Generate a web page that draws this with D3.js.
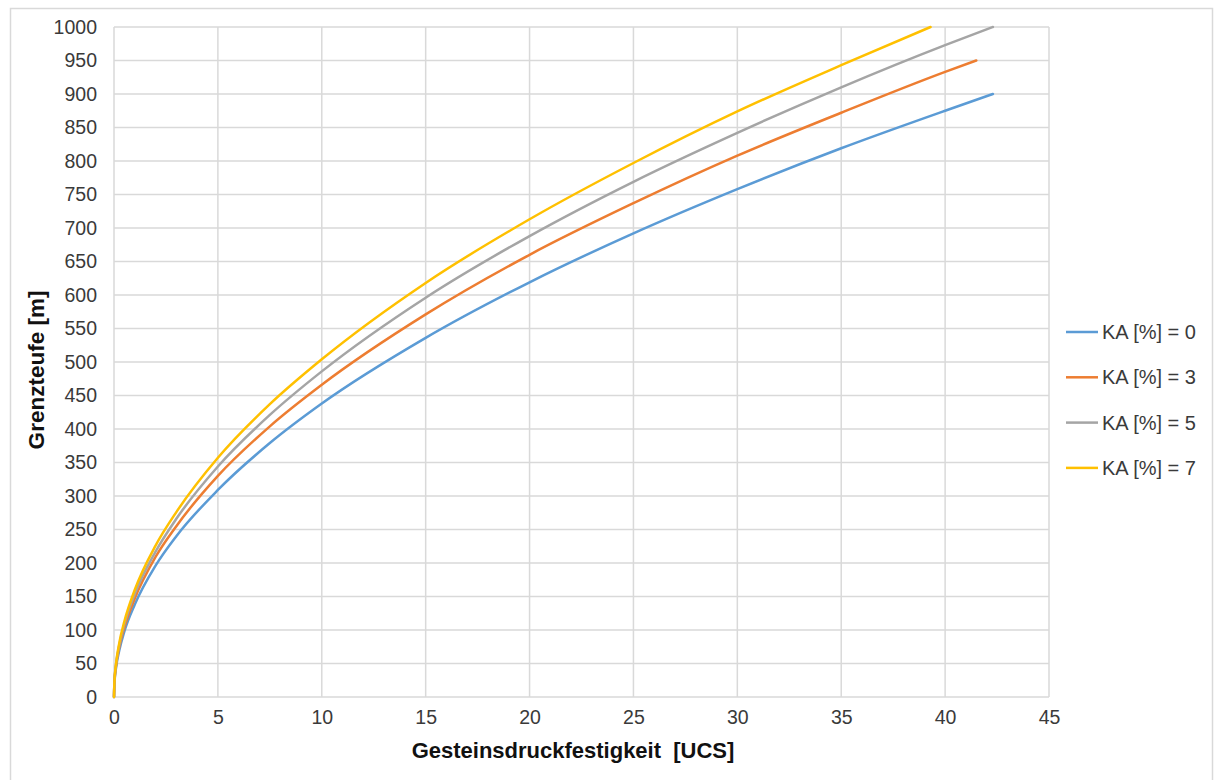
<!DOCTYPE html>
<html><head><meta charset="utf-8">
<script src="https://cdn.jsdelivr.net/npm/d3@7"></script>
<style>body{margin:0;background:#fff;}svg{display:block;font-family:"Liberation Sans",Arial,sans-serif;}</style>
</head><body><svg id="c" width="1214" height="780"></svg>
<script>
const xTicks = [0,5,10,15,20,25,30,35,40,45];
const yTicks = [0,50,100,150,200,250,300,350,400,450,500,550,600,650,700,750,800,850,900,950,1000];
const seriesNames = ["KA [%] = 0","KA [%] = 3","KA [%] = 5","KA [%] = 7"];
const seriesColors = ["#5b9bd5","#ed7d31","#a5a5a5","#ffc000"];
const ucs0 = [0,0.02,0.1,0.25,0.5,1,2,3,5,7.5,10,15,20,25,30,35,40,42.3];
const depth0 = [0,20,44,69,98,138,196,240,309,379,438,536,619,692,758,819,875,900];
const ucs3 = [0,0.02,0.1,0.25,0.5,1,2,3,5,7.5,10,15,20,25,30,35,40,41.5];
const depth3 = [0,21,47,74,104,147,209,255,330,404,466,571,660,737,808,872,933,950];
const ucs5 = [0,0.02,0.1,0.25,0.5,1,2,3,5,7.5,10,15,20,25,30,35,40,42.3];
const depth5 = [0,22,49,77,109,154,217,266,344,421,486,596,688,769,842,910,973,1000];
const ucs7 = [0,0.02,0.1,0.25,0.5,1,2,3,5,7.5,10,15,20,25,30,35,39.3];
const depth7 = [0,23,50,80,113,160,226,276,357,437,504,618,713,797,874,943,1000];

const seriesX = [ucs0,ucs3,ucs5,ucs7];
const seriesY = [depth0,depth3,depth5,depth7];

const svg = d3.select("#c");
svg.append("rect").attr("x",10.5).attr("y",8.5).attr("width",1202).attr("height",800)
  .attr("fill","#fff").attr("stroke","#d9d9d9").attr("stroke-width",1.5);

const L=114, R=1049, T=27, B=697;
const x = d3.scaleLinear().domain([0,45]).range([L,R]);
const y = d3.scaleLinear().domain([0,1000]).range([B,T]);

const grid = svg.append("g");
grid.selectAll("line.h").data(yTicks).join("line")
  .attr("x1",L).attr("x2",R).attr("y1",d=>y(d)).attr("y2",d=>y(d))
  .attr("stroke","#d9d9d9").attr("stroke-width",1.5);
grid.selectAll("line.v").data(xTicks).join("line")
  .attr("y1",T).attr("y2",B).attr("x1",d=>x(d)).attr("x2",d=>x(d))
  .attr("stroke","#d9d9d9").attr("stroke-width",1.5);

const yAxis = svg.append("g").attr("transform",`translate(${L},0)`)
  .call(d3.axisLeft(y).tickValues(yTicks).tickFormat(d3.format("d")).tickSize(0).tickPadding(17));
yAxis.select(".domain").remove();
yAxis.selectAll("text").attr("font-size",19.5).attr("fill","#3a3a3a").attr("font-family","Liberation Sans, Arial, sans-serif");

const xAxis = svg.append("g").attr("transform",`translate(0,${B})`)
  .call(d3.axisBottom(x).tickValues(xTicks).tickFormat(d3.format("d")).tickSize(0).tickPadding(13));
xAxis.select(".domain").remove();
xAxis.selectAll("text").attr("font-size",19.5).attr("fill","#3a3a3a").attr("font-family","Liberation Sans, Arial, sans-serif");

const line = d3.line().x(d=>x(d[0])).y(d=>y(d[1])).curve(d3.curveMonotoneX);
seriesNames.forEach((n,i)=>{
  const pts = seriesX[i].map((v,j)=>[v,seriesY[i][j]]);
  svg.append("path").datum(pts).attr("d",line).attr("fill","none")
    .attr("stroke",seriesColors[i]).attr("stroke-width",2.5).attr("stroke-linecap","round");
});

svg.append("text").attr("x",573).attr("y",758).attr("text-anchor","middle")
  .attr("font-size",22).attr("font-weight","bold").attr("fill","#111")
  .attr("xml:space","preserve").text("Gesteinsdruckfestigkeit  [UCS]");
svg.append("text").attr("transform","translate(44,370) rotate(-90)").attr("text-anchor","middle")
  .attr("font-size",22.5).attr("font-weight","bold").attr("fill","#111").text("Grenzteufe [m]");

const leg = svg.append("g");
seriesNames.forEach((n,i)=>{
  const yy = 332 + i*45.3;
  leg.append("line").attr("x1",1066).attr("x2",1098).attr("y1",yy).attr("y2",yy)
    .attr("stroke",seriesColors[i]).attr("stroke-width",2.5);
  leg.append("text").attr("x",1102).attr("y",yy).attr("dy","0.35em")
    .attr("font-size",20).attr("fill","#3a3a3a").text(n);
});
</script></body></html>
